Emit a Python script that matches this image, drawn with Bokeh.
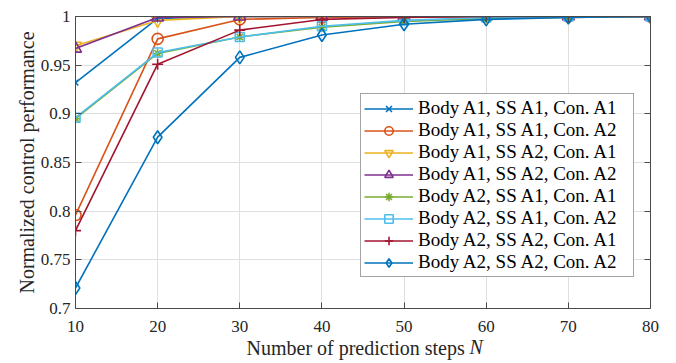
from bokeh.plotting import figure
from bokeh.models import (Range1d, FixedTicker, LinearAxis, NumeralTickFormatter, Title, Legend,
                          CustomJSTickFormatter)
from bokeh.embed import file_html
from bokeh.resources import INLINE

# ---- data ----
steps = [10, 20, 30, 40, 50, 60, 70, 80]
labels = [
    "Body A1, SS A1, Con. A1",
    "Body A1, SS A1, Con. A2",
    "Body A1, SS A2, Con. A1",
    "Body A1, SS A2, Con. A2",
    "Body A2, SS A1, Con. A1",
    "Body A2, SS A1, Con. A2",
    "Body A2, SS A2, Con. A1",
    "Body A2, SS A2, Con. A2",
]
s1 = [0.932, 0.998, 1.000, 1.000, 1.000, 1.000, 1.000, 1.000]
s2 = [0.796, 0.977, 0.997, 0.999, 1.000, 1.000, 1.000, 1.000]
s3 = [0.970, 0.996, 1.000, 1.000, 1.000, 1.000, 1.000, 1.000]
s4 = [0.967, 0.999, 1.000, 1.000, 1.000, 1.000, 1.000, 1.000]
s5 = [0.895, 0.962, 0.979, 0.989, 0.995, 0.998, 0.999, 1.000]
s6 = [0.896, 0.963, 0.979, 0.990, 0.996, 0.999, 1.000, 1.000]
s7 = [0.780, 0.951, 0.986, 0.997, 0.999, 1.000, 1.000, 1.000]
s8 = [0.721, 0.876, 0.958, 0.981, 0.992, 0.997, 0.999, 1.000]
series = [s1, s2, s3, s4, s5, s6, s7, s8]
x_ticks = [10, 20, 30, 40, 50, 60, 70, 80]
y_ticks = [0.7, 0.75, 0.8, 0.85, 0.9, 0.95, 1.0]
x_title = "Number of prediction steps"
x_symbol = "N"

colors = ["#0072BD", "#D95319", "#EDB120", "#7E2F8E", "#77AC30", "#4DBEEE", "#A2142F", "#0072BD"]
markers = ["x", "circle", "inverted_triangle", "triangle", "asterisk", "square", "cross", "diamond"]
msizes = [8, 11, 12, 12, 9, 9, 11, 13]

FONT = "Liberation Serif, Times New Roman, serif"
AX = "#4a4a4a"
TXT = "#262626"

p = figure(width=676, height=363,
           x_range=Range1d(10, 80), y_range=Range1d(0.7, 1.0),
           output_backend="svg", toolbar_location=None,
           min_border_left=75, min_border_right=26, min_border_top=16, min_border_bottom=55)
p.outline_line_color = None
p.background_fill_color = "white"

for ax in p.xaxis + p.yaxis:
    ax.axis_line_color = AX
    ax.axis_line_width = 1
    ax.major_tick_line_color = AX
    ax.major_tick_in = 6
    ax.major_tick_out = 0
    ax.minor_tick_line_color = None
    ax.major_label_text_font = FONT
    ax.major_label_text_font_size = "17px"
    ax.major_label_text_color = TXT
    ax.axis_label_text_font = FONT
    ax.axis_label_text_font_size = "20px"
    ax.axis_label_text_font_style = "normal"
    ax.axis_label_text_color = TXT

p.xaxis.ticker = FixedTicker(ticks=x_ticks)
p.yaxis.ticker = FixedTicker(ticks=y_ticks)
p.yaxis.formatter = NumeralTickFormatter(format="0.[00]")
p.xaxis.major_label_standoff = 12
p.yaxis.major_label_standoff = 5
p.yaxis.axis_label = "Normalized control performance"
p.yaxis.axis_label_standoff = 0

# box axes (top / right) with inward ticks and no labels
blank = CustomJSTickFormatter(code="return ''")
top = LinearAxis(ticker=FixedTicker(ticks=x_ticks), formatter=blank,
                 axis_line_color=AX, major_tick_line_color=AX, major_tick_in=6, major_tick_out=0,
                 minor_tick_line_color=None, major_label_standoff=0)
right = LinearAxis(ticker=FixedTicker(ticks=y_ticks), formatter=blank,
                   axis_line_color=AX, major_tick_line_color=AX, major_tick_in=6, major_tick_out=0,
                   minor_tick_line_color=None, major_label_standoff=0)
p.add_layout(top, "above")
p.add_layout(right, "right")

p.xgrid.ticker = FixedTicker(ticks=x_ticks)
p.ygrid.ticker = FixedTicker(ticks=y_ticks)
p.grid.grid_line_color = "#dfdfdf"
p.grid.grid_line_width = 1

items = []
for ys, c, m, sz, lab in zip(series, colors, markers, msizes, labels):
    r1 = p.line(steps, ys, line_color=c, line_width=1.6)
    r2 = p.scatter(steps, ys, marker=m, size=sz, line_color=c, fill_color=None, line_width=1.6)
    items.append((lab, [r1, r2]))

legend = Legend(items=items, location=(285, 31))
legend.label_text_font = FONT
legend.label_text_font_size = "19px"
legend.label_text_color = "black"
legend.glyph_width = 49
legend.glyph_height = 21
legend.label_height = 21
legend.label_width = 212
legend.label_standoff = 5
legend.spacing = 0
legend.padding = 3
legend.margin = 0
legend.border_line_color = AX
legend.border_line_width = 1
legend.background_fill_color = "white"
legend.background_fill_alpha = 1
p.add_layout(legend, "center")

# x axis label (with italic N) as two titles in the bottom panel
t1 = Title(text=x_title, align="left", offset=171, standoff=4, vertical_align="top",
           text_font=FONT, text_font_size="20px", text_font_style="normal", text_color=TXT)
t2 = Title(text=x_symbol, align="left", offset=394, standoff=-54, vertical_align="top",
           text_font=FONT, text_font_size="20px", text_font_style="italic", text_color=TXT)
p.add_layout(t1, "below")
p.add_layout(t2, "below")

open("out.html", "w").write(file_html(p, INLINE))
